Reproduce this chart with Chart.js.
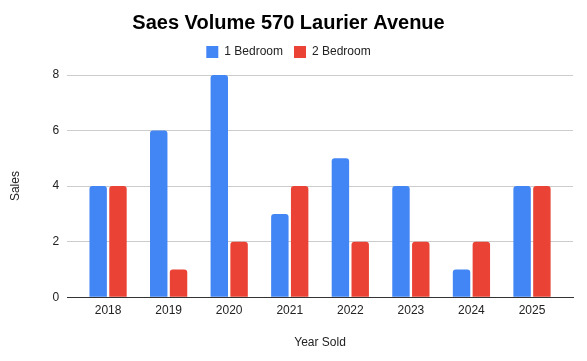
<!DOCTYPE html>
<html>
<head>
<meta charset="utf-8">
<script src="https://cdn.jsdelivr.net/npm/chart.js@4"></script>
<style>
  html, body { margin: 0; padding: 0; background: #fff; }
  #wrap { width: 587px; height: 361px; }
</style>
</head>
<body>
<div id="wrap"><canvas id="myChart"></canvas></div>
<script>
'use strict';

let years = ['2018', '2019', '2020', '2021', '2022', '2023', '2024', '2025'];
let oneBedroom = [4, 6, 8, 3, 5, 4, 1, 4];
let twoBedroom = [4, 1, 2, 4, 2, 2, 2, 4];
let yTicks = [0, 2, 4, 6, 8];

// bars sit on a linear x axis so the side margins match the original
function toPoints(values) {
  return values.map((v, i) => ({ x: i, y: v }));
}

Chart.defaults.font.family = 'Arial, "Liberation Sans", sans-serif';
Chart.defaults.color = '#222';

// a bit more room under the legend
let legendGap = {
  id: 'legendGap',
  beforeInit(chart) {
    let fit = chart.legend.fit;
    chart.legend.fit = function () {
      fit.bind(chart.legend)();
      this.height += 7;
    };
  }
};

let ctx = document.getElementById('myChart');

let config = {
  type: 'bar',
  data: {
    datasets: [
      {
        label: '1 Bedroom',
        data: toPoints(oneBedroom),
        backgroundColor: '#4285F4',
        borderRadius: { topLeft: 3, topRight: 3 },
        borderSkipped: 'bottom',
        categoryPercentage: 0.654,
        barPercentage: 0.88,
      },
      {
        label: '2 Bedroom',
        data: toPoints(twoBedroom),
        backgroundColor: '#EA4335',
        borderRadius: { topLeft: 3, topRight: 3 },
        borderSkipped: 'bottom',
        categoryPercentage: 0.654,
        barPercentage: 0.88,
      }
    ]
  },
  options: {
    responsive: true,
    maintainAspectRatio: false,
    animation: false,
    layout: { padding: { left: 4, right: 14, top: 9, bottom: 7 } },
    plugins: {
      title: {
        display: true,
        text: 'Saes Volume 570 Laurier Avenue',
        color: '#000',
        font: { size: 20, weight: 'bold' },
        padding: { top: 2, bottom: 0 }
      },
      legend: {
        labels: {
          boxWidth: 12,
          boxHeight: 12,
          padding: 11,
          color: '#222',
          font: { size: 12 }
        }
      },
      tooltip: { enabled: false }
    },
    scales: {
      x: {
        type: 'linear',
        offset: false,
        min: -0.677,
        max: 7.677,
        afterBuildTicks: (scale) => {
          scale.ticks = years.map((y, i) => ({ value: i }));
        },
        ticks: {
          autoSkip: false,
          maxRotation: 0,
          padding: 6,
          font: { size: 12 },
          callback: (v) => years[v]
        },
        grid: { display: false, offset: false, drawTicks: false },
        border: { color: '#333', width: 1 },
        title: {
          display: true,
          text: 'Year Sold',
          font: { size: 12 },
          padding: { top: 12, bottom: 4 }
        }
      },
      y: {
        min: 0,
        max: 8,
        afterBuildTicks: (scale) => {
          scale.ticks = yTicks.map((v) => ({ value: v }));
        },
        ticks: { padding: 8, font: { size: 12 } },
        grid: { color: '#cccccc', drawTicks: false },
        border: { display: false },
        title: {
          display: true,
          text: 'Sales',
          font: { size: 12 },
          padding: { bottom: 22 }
        }
      }
    }
  },
  plugins: [legendGap]
};

new Chart(ctx, config);
</script>
</body>
</html>
